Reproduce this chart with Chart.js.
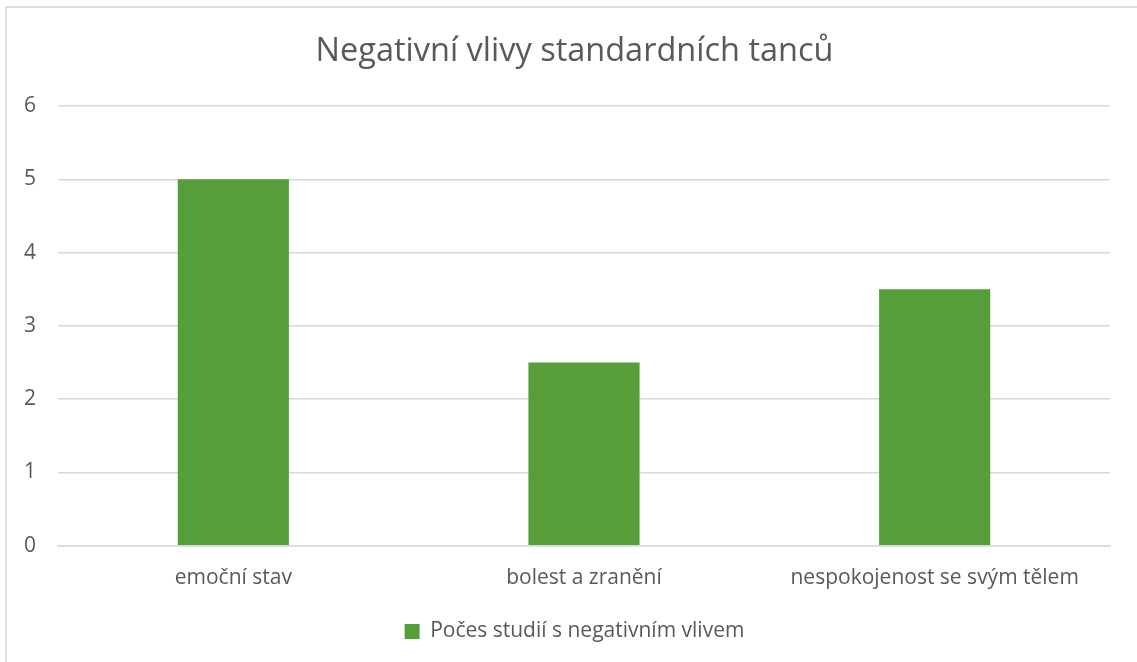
<!DOCTYPE html>
<html>
<head>
<meta charset="utf-8">
<title>Negativní vlivy standardních tanců</title>
<script src="https://cdn.jsdelivr.net/npm/chart.js@4.4.0/dist/chart.umd.min.js"></script>
<style>
  html, body { margin: 0; padding: 0; background: #fff; }
  #frame {
    position: absolute;
    left: 5px;
    top: 6px;
    width: 1132px;
    height: 656px;
    border-left: 2px solid #dedede;
    border-top: 2px solid #dedede;
    box-sizing: border-box;
  }
  #wrap { position: absolute; left: 0; top: 0; width: 1137px; height: 662px; }
</style>
</head>
<body>
<div id="frame"></div>
<div id="wrap"><canvas id="chart"></canvas></div>
<script>
// Data
const categories = ["emoční stav", "bolest a zranění", "nespokojenost se svým tělem"];
const studyCounts = [5, 2.5, 3.5];
const seriesLabel = "Počes studií s negativním vlivem";
const chartTitle = "Negativní vlivy standardních tanců";
const yTicks = [0, 1, 2, 3, 4, 5, 6];

const textColor = "#595959";
const gridColor = "#d9d9d9";
const barColor = "#559e3a";
const fontFamily = "'Open Sans', 'Noto Sans', sans-serif";

document.addEventListener("DOMContentLoaded", function () {
  const ctx = document.getElementById("chart");

  new Chart(ctx, {
    type: "bar",
    data: {
      labels: categories,
      datasets: [
        {
          label: seriesLabel,
          data: studyCounts,
          backgroundColor: barColor,
          borderWidth: 0,
          categoryPercentage: 1,
          barPercentage: 0.317,
        },
      ],
    },
    options: {
      responsive: true,
      maintainAspectRatio: false,
      animation: false,
      layout: {
        // wide left padding keeps title and legend centred on the frame
        padding: { left: 39, right: 27, top: 19, bottom: 10 },
      },
      plugins: {
        title: {
          display: true,
          text: chartTitle,
          color: textColor,
          font: { family: fontFamily, size: 32.5, weight: "normal" },
          padding: { top: 13, bottom: 35 },
        },
        legend: {
          position: "bottom",
          labels: {
            color: textColor,
            font: { family: fontFamily, size: 21 },
            boxWidth: 15,
            boxHeight: 15,
            padding: 18,
          },
        },
        tooltip: { enabled: false },
      },
      scales: {
        x: {
          grid: { display: false },
          border: { display: true, color: gridColor, width: 1.5 },
          ticks: {
            color: textColor,
            font: { family: fontFamily, size: 21 },
            padding: 12,
          },
        },
        y: {
          min: yTicks[0],
          max: yTicks[yTicks.length - 1],
          afterBuildTicks: function (axis) {
            axis.ticks = yTicks.map((v) => ({ value: v }));
          },
          // narrow axis; mirrored labels with negative padding sit left of the plot
          afterFit: function (axis) {
            axis.width = 19;
          },
          grid: { color: gridColor, lineWidth: 1.5, drawTicks: false },
          border: { display: false },
          ticks: {
            color: textColor,
            font: { family: fontFamily, size: 21 },
            mirror: true,
            padding: -34,
          },
        },
      },
    },
  });
});
</script>
</body>
</html>
